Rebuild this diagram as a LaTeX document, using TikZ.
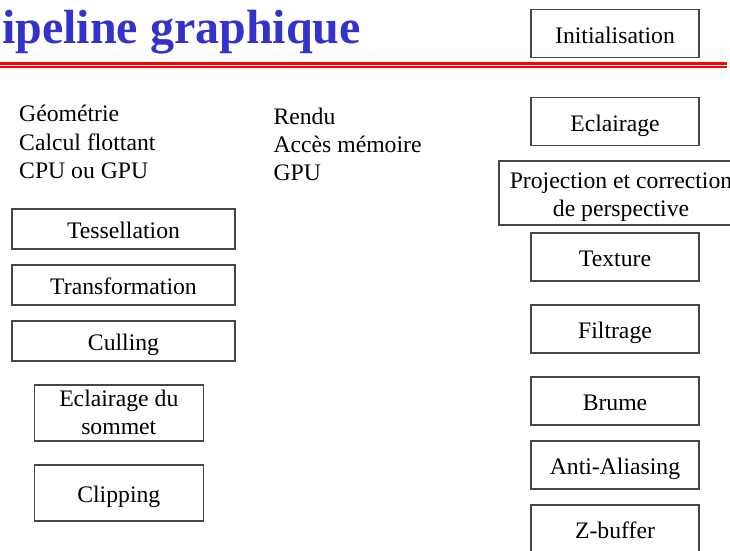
\documentclass[tikz,border=0pt]{standalone}
\usepackage{fontspec}
\setmainfont{Liberation Serif}
\definecolor{titleblue}{RGB}{51,51,204}
\definecolor{rulered}{RGB}{255,0,0}
\definecolor{boxgray}{RGB}{70,70,70}
% centred lines inside a box, baseline on the first line
\newcommand{\boxlines}[1]{\begin{tabular}[t]{@{}c@{}}#1\end{tabular}}
\newcommand{\leftlines}[1]{\begin{tabular}[t]{@{}l@{}}#1\end{tabular}}
\begin{document}
\begin{tikzpicture}[x=1pt,y=-1pt,
  bodyfont/.style={font=\fontsize{23.7}{28.3}\selectfont},
  txt/.style={bodyfont, inner sep=0pt},
  stage/.style={bodyfont, draw=boxgray, line width=1.2pt, inner sep=0pt,
    text height=22pt, text depth=3pt},
  rightstage/.style={stage, minimum width=168pt, minimum height=48pt},
  leftstage/.style={stage, minimum width=223pt, minimum height=40pt},
  vertexstage/.style={stage, minimum width=169pt, minimum height=56pt},
]
\useasboundingbox (0,0) rectangle (730,550);
\clip (0,0) rectangle (730,550);

% heading and its double red rule
\node[anchor=base west, inner sep=0pt, text=titleblue,
  font=\fontsize{48}{48}\selectfont\bfseries] (title) at (2,43) {ipeline graphique};
\draw[rulered, line width=3.3pt] (0,63.7) -- (727,63.7);
\draw[rulered, line width=1.3pt] (0,67) -- (727,67);

% column headings
\node[txt, anchor=base west] (geom) at (19,121.7)
  {\leftlines{Géométrie\\Calcul flottant\\CPU ou GPU}};
\node[txt, anchor=base west] (rendu) at (273.3,124.3)
  {\leftlines{Rendu\\Accès mémoire\\GPU}};

% geometry stages
\node[leftstage] (tess) at (123.5,229) {Tessellation};
\node[leftstage] (transf) at (123.5,285) {Transformation};
\node[leftstage] (cull) at (123.5,341) {Culling};
\node[vertexstage, text height=10pt, text depth=24pt] (esom) at (118.8,413)
  {\boxlines{Eclairage du\\sommet}};
\node[vertexstage] (clipst) at (118.8,493) {Clipping};

% rendering stages
\node[rightstage] (init) at (615,33.5) {Initialisation};
\node[rightstage] (ecl) at (615,121.5) {Eclairage};
\node[stage, minimum width=244pt, minimum height=64pt,
  text height=12pt, text depth=22pt] (proj) at (621,193)
  {\boxlines{Projection et correction\\de perspective}};
\node[rightstage] (tex) at (615,257) {Texture};
\node[rightstage] (filt) at (615,329) {Filtrage};
\node[rightstage] (brume) at (615,401) {Brume};
\node[rightstage] (aa) at (615,465) {Anti-Aliasing};
\node[rightstage] (zbuf) at (615,529) {Z-buffer};
\end{tikzpicture}
\end{document}
